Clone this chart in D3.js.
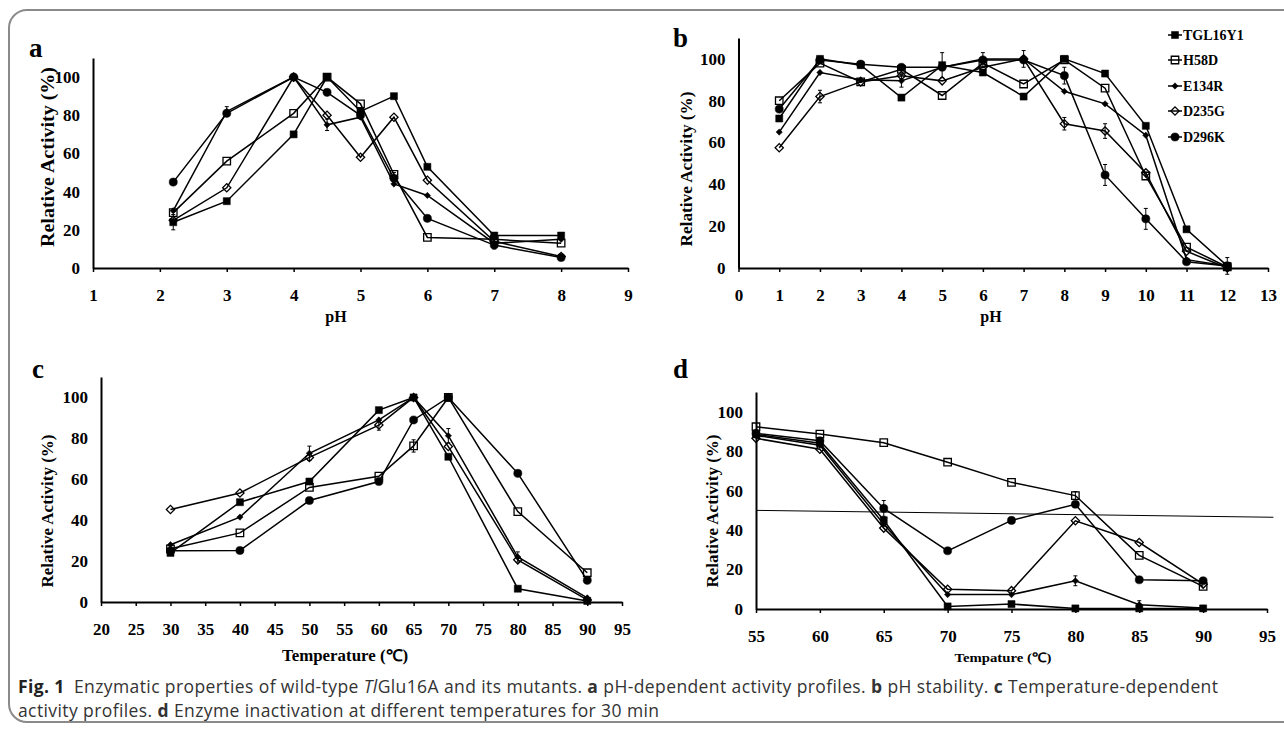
<!DOCTYPE html>
<html>
<head>
<meta charset="utf-8">
<script src="https://cdn.jsdelivr.net/npm/d3@7"></script>
<style>
body { margin: 0; background: #fff; }
svg text { font-family: "Liberation Serif", "Times New Roman", serif; font-weight: bold; fill: #000; }
svg text.cap { font-family: "Open Sans", sans-serif; font-weight: normal; fill: #333; letter-spacing: 0.4px; }
</style>
</head>
<body>
<svg id="fig" width="1284" height="732"></svg>
<script>
// series order everywhere: TGL16Y1, H58D, E134R, D235G, D296K
var seriesNames = ["TGL16Y1", "H58D", "E134R", "D235G", "D296K"];

// a: pH-dependent activity
var phA = [2.2, 3, 4, 4.5, 5, 5.5, 6, 7, 8];
var aTGL16Y1 = [24, 35, 70, 100, 82, 90, 53, 17, 17];
var aH58D    = [29, 56, 81, 100, 86, 49, 16, 15, 13];
var aE134R   = [30, 82, 100, 75, 79, 44, 38, 13, 15];
var aD235G   = [25, 42, 100, 80, 58, 79, 46, 14, 6];
var aD296K   = [45, 81, 100, 92, 80, 47, 26, 12, 5.5];
var aErr = [[2.2, 24, 4], [3, 82, 2.5], [4.5, 75, 3], [5.5, 47, 3], [7, 13, 3]];

// b: pH stability
var phB = [1, 2, 3, 4, 5, 6, 7, 8, 9, 10, 11, 12];
var bTGL16Y1 = [71.5, 100, 97, 81.5, 97, 93.5, 82, 100, 93, 68, 18.5, 1];
var bH58D    = [80, 98, 89, 95, 82.5, 98, 88, 99.5, 86, 44, 10, 0.5];
var bE134R   = [65, 93.5, 90, 89.5, 96, 100, 100, 84.5, 78.5, 63.5, 4, 1];
var bD235G   = [57.5, 82, 89, 92, 89.5, 96, 100, 69, 65.5, 45.5, 8, 0];
var bD296K   = [76, 99.5, 97.5, 96, 96, 99.5, 99.5, 92, 44.5, 23.5, 3, 1];
var bErr = [[2, 82, 3], [4, 89.5, 3], [5, 97, 6], [6, 99.5, 3.5], [7, 100, 4],
            [8, 92, 4], [8, 69, 3], [9, 44.5, 5], [9, 65.5, 3.5], [10, 23.5, 5], [12, 1, 4]];

// c: temperature-dependent activity
var tempC = [30, 40, 50, 60, 65, 70, 80, 90];
var cTGL16Y1 = [24, 48.8, 58.9, 93.8, 100, 71, 6.5, 0.5];
var cH58D    = [26, 33.8, 56, 61.5, 76.3, 100, 44.2, 14.3];
var cE134R   = [28, 41.5, 72.7, 89, 100, 81.3, 22, 2];
var cD235G   = [45.2, 53.3, 70.7, 86.5, 100, 76, 20.6, 1];
var cD296K   = [25, 25.2, 49.6, 58.9, 89, 100, 62.9, 10.6];
var cErr = [[50, 72.7, 3.5], [60, 86.5, 2.5], [65, 76.3, 3], [70, 81.3, 3.5], [80, 22, 2.5]];

// d: inactivation at different temperatures
var tempD = [55, 60, 65, 70, 75, 80, 85, 90];
var dTGL16Y1 = [88.5, 84, 45, 1.3, 2.5, 0.3, 0.3, 0.3];
var dH58D    = [92.4, 88.7, 84.3, 74.4, 64.2, 57.5, 27.2, 11.5];
var dE134R   = [88, 83, 43, 7.3, 7.3, 14.3, 2.2, 0.5];
var dD235G   = [86.5, 81, 41, 10, 9.3, 44.7, 33.7, 12.6];
var dD296K   = [89, 85.3, 51, 29.5, 44.9, 53.1, 14.8, 14.3];
var dErr = [[65, 51, 4], [80, 14.3, 2.5], [85, 2.2, 2], [80, 57.5, 2]];
var dHalfLine = [[55, 50], [95.5, 46.5]];

var yTicks = [0, 20, 40, 60, 80, 100];

var svg = d3.select("#fig");

// frame
svg.append("rect")
    .attr("x", 9).attr("y", 10)
    .attr("width", 1300).attr("height", 712)
    .attr("rx", 18)
    .attr("fill", "none")
    .attr("stroke", "#8a8a8a")
    .attr("stroke-width", 2);

// rot: diamonds are squares turned by 45 degrees
var markers = [
    {type: d3.symbolSquare, size: 50, fill: "#000", rot: 0},
    {type: d3.symbolSquare, size: 56, fill: "none", rot: 0},
    {type: d3.symbolSquare, size: 20, fill: "#000", rot: 45},
    {type: d3.symbolSquare, size: 34, fill: "none", rot: 45},
    {type: d3.symbolCircle, size: 52, fill: "#000", rot: 0}
];

function markerPath(sel, m) {
    sel.attr("d", d3.symbol().type(m.type).size(m.size))
        .attr("fill", m.fill)
        .attr("stroke", "#000")
        .attr("stroke-width", m.fill === "none" ? 1.3 : 0.5);
}

var panels = [
    {letter: "a", lx: 29, ly: 57, xs: phA, ys: [aTGL16Y1, aH58D, aE134R, aD235G, aD296K], err: aErr,
     xd: [1, 9], xr: [93, 628], yr: [268, 58], ticks: d3.range(1, 10, 1),
     title: "pH", tx: 336, ty: 322, tfs: 16,
     ylx: 47, yly: 157, yll: 180, ylf: 19},
    {letter: "b", lx: 673, ly: 47, xs: phB, ys: [bTGL16Y1, bH58D, bE134R, bD235G, bD296K], err: bErr,
     xd: [0, 13], xr: [738.5, 1268], yr: [268, 38], ticks: d3.range(0, 14, 1),
     title: "pH", tx: 991, ty: 322, tfs: 16,
     ylx: 686, yly: 169, yll: 155, ylf: 17},
    {letter: "c", lx: 32, ly: 378, xs: tempC, ys: [cTGL16Y1, cH58D, cE134R, cD235G, cD296K], err: cErr,
     xd: [20, 95], xr: [101, 622], yr: [602, 377], ticks: d3.range(20, 100, 5),
     title: "Temperature (\u2103)", tx: 345, ty: 661, tfs: 16, tlen: 126,
     ylx: 47, yly: 511, yll: 153, ylf: 17},
    {letter: "d", lx: 673, ly: 378, xs: tempD, ys: [dTGL16Y1, dH58D, dE134R, dD235G, dD296K], err: dErr,
     xd: [55, 95], xr: [756, 1267], yr: [609, 392], ticks: d3.range(55, 100, 5),
     title: "Tempature (\u2103)", tx: 1003, ty: 662, tfs: 13, tlen: 97,
     ylx: 712, yly: 511, yll: 153, ylf: 17}
];

panels.forEach(function(p) {
    var g = svg.append("g");
    var x = d3.scaleLinear().domain(p.xd).range(p.xr);
    var y = d3.scaleLinear().domain([0, 110]).range(p.yr);

    g.append("text").attr("x", p.lx).attr("y", p.ly)
        .style("font-size", "27px").text(p.letter);

    var xa = g.append("g")
        .attr("transform", "translate(0," + p.yr[0] + ")")
        .call(d3.axisBottom(x).tickValues(p.ticks).tickSize(4).tickSizeOuter(0).tickPadding(17));
    var ya = g.append("g")
        .attr("transform", "translate(" + p.xr[0] + ",0)")
        .call(d3.axisLeft(y).tickValues(yTicks).tickSize(0).tickPadding(13));
    [xa, ya].forEach(function(a) {
        a.select(".domain").attr("stroke", "#000").attr("stroke-width", 2);
        a.selectAll(".tick line").attr("stroke", "#000").attr("stroke-width", 1.5);
        a.selectAll(".tick text")
            .style("font-family", "'Liberation Serif', serif")
            .style("font-weight", "bold")
            .style("font-size", "17px");
    });

    var xt = g.append("text").attr("x", p.tx).attr("y", p.ty)
        .attr("text-anchor", "middle")
        .style("font-size", p.tfs + "px").text(p.title);
    if (p.tlen) xt.attr("textLength", p.tlen).attr("lengthAdjust", "spacingAndGlyphs");

    g.append("text")
        .attr("transform", "translate(" + p.ylx + "," + p.yly + ") rotate(-90)")
        .attr("text-anchor", "middle").attr("dy", "0.35em")
        .attr("textLength", p.yll).attr("lengthAdjust", "spacingAndGlyphs")
        .style("font-size", p.ylf + "px")
        .text("Relative Activity (%)");

    if (p.letter === "d") {
        g.append("path")
            .attr("d", d3.line().x(function(d) { return x(d[0]); }).y(function(d) { return y(d[1]); })(dHalfLine))
            .attr("fill", "none").attr("stroke", "#000").attr("stroke-width", 1);
    }

    var line = d3.line()
        .x(function(d) { return x(d[0]); })
        .y(function(d) { return y(d[1]); });

    p.ys.forEach(function(vals) {
        g.append("path")
            .attr("d", line(p.xs.map(function(xv, i) { return [xv, vals[i]]; })))
            .attr("fill", "none").attr("stroke", "#000").attr("stroke-width", 1.5);
    });

    // error bars: [x, value, +/- error]
    var eb = g.selectAll(null).data(p.err).enter().append("g")
        .attr("stroke", "#000").attr("stroke-width", 1);
    eb.append("line")
        .attr("x1", function(d) { return x(d[0]); }).attr("x2", function(d) { return x(d[0]); })
        .attr("y1", function(d) { return y(d[1] - d[2]); }).attr("y2", function(d) { return y(d[1] + d[2]); });
    [1, -1].forEach(function(s) {
        eb.append("line")
            .attr("x1", function(d) { return x(d[0]) - 2; }).attr("x2", function(d) { return x(d[0]) + 2; })
            .attr("y1", function(d) { return y(d[1] + s * d[2]); }).attr("y2", function(d) { return y(d[1] + s * d[2]); });
    });

    p.ys.forEach(function(vals, si) {
        var m = markers[si];
        g.selectAll(null)
            .data(p.xs.map(function(xv, i) { return [xv, vals[i]]; }))
            .enter().append("path")
            .attr("transform", function(d) {
                return "translate(" + x(d[0]) + "," + y(d[1]) + ") rotate(" + m.rot + ")";
            })
            .call(markerPath, m);
    });
});

// legend (panel b)
var legY = [35, 60, 86, 111, 137];
var leg = svg.append("g");
seriesNames.forEach(function(name, i) {
    var m = markers[i];
    leg.append("line")
        .attr("x1", 1168).attr("x2", 1182)
        .attr("y1", legY[i]).attr("y2", legY[i])
        .attr("stroke", "#000").attr("stroke-width", 1.5);
    leg.append("path")
        .attr("transform", "translate(1175," + legY[i] + ") rotate(" + m.rot + ")")
        .call(markerPath, m);
    leg.append("text")
        .attr("x", 1183).attr("y", legY[i] + 5)
        .style("font-size", "14px")
        .text(name);
});

// caption
var cap1 = svg.append("text").attr("class", "cap").attr("x", 18).attr("y", 693).style("font-size", "17.5px");
cap1.append("tspan").style("font-weight", "bold").style("fill", "#222").text("Fig. 1");
cap1.append("tspan").text("\u2002Enzymatic properties of wild-type ");
cap1.append("tspan").style("font-style", "italic").text("Tl");
cap1.append("tspan").text("Glu16A and its mutants. ");
cap1.append("tspan").style("font-weight", "bold").text("a");
cap1.append("tspan").text(" pH-dependent activity profiles. ");
cap1.append("tspan").style("font-weight", "bold").text("b");
cap1.append("tspan").text(" pH stability. ");
cap1.append("tspan").style("font-weight", "bold").text("c");
cap1.append("tspan").text(" Temperature-dependent");

var cap2 = svg.append("text").attr("class", "cap").attr("x", 18).attr("y", 717).style("font-size", "17.5px");
cap2.append("tspan").text("activity profiles. ");
cap2.append("tspan").style("font-weight", "bold").text("d");
cap2.append("tspan").text(" Enzyme inactivation at different temperatures for 30 min");
</script>
</body>
</html>
